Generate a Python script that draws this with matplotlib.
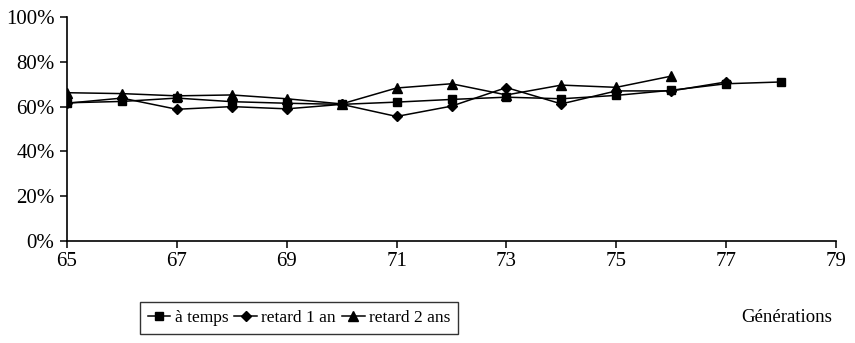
import matplotlib
matplotlib.use("Agg")
import matplotlib.pyplot as plt
from matplotlib.ticker import PercentFormatter

plt.rcParams['font.family'] = ['Liberation Serif', 'DejaVu Serif']

years_a_temps = list(range(65, 79))
a_temps = [61.7, 62.3, 63.8, 62.2, 61.5, 61.0, 62.0, 63.2, 64.2, 63.5, 65.0, 67.3, 70.2, 71.0]
years_retard_1 = list(range(65, 78))
retard_1 = [61.5, 63.8, 58.8, 60.0, 59.0, 61.0, 55.6, 60.2, 68.5, 61.2, 67.0, 67.0, 71.0]
years_retard_2 = list(range(65, 77))
retard_2 = [66.2, 65.8, 64.8, 65.2, 63.5, 61.2, 68.3, 70.2, 65.2, 69.6, 68.6, 73.6]

labels = ["à temps", "retard 1 an", "retard 2 ans"]
x_ticks = [65, 67, 69, 71, 73, 75, 77, 79]
y_ticks = [0, 20, 40, 60, 80, 100]

fig = plt.figure(figsize=(8.55, 3.43), dpi=100)
ax = fig.add_axes([67/855, 1-241/343, (836-67)/855, (241-17)/343])

lw = 1.1
h1, = ax.plot(years_a_temps, a_temps, color='black', lw=lw, marker='s', ms=6, label=labels[0])
h2, = ax.plot(years_retard_1, retard_1, color='black', lw=lw, marker='D', ms=5, label=labels[1])
h3, = ax.plot(years_retard_2, retard_2, color='black', lw=lw, marker='^', ms=7, label=labels[2])

ax.set_xlim(65, 79)
ax.set_ylim(0, 100)
ax.set_xticks(x_ticks)
ax.set_yticks(y_ticks)
ax.yaxis.set_major_formatter(PercentFormatter(decimals=0))
for s in ['top', 'right']:
    ax.spines[s].set_visible(False)
for s in ['left', 'bottom']:
    ax.spines[s].set_linewidth(1.2)
ax.tick_params(axis='both', direction='out', length=5, width=1.1, labelsize=15)
ax.tick_params(axis='x', pad=3)
ax.tick_params(axis='y', pad=4)

leg = fig.legend(handles=[h1, h2, h3], loc='center', bbox_to_anchor=(299/855, 1-318/343),
                 ncol=3, frameon=True, fancybox=False, edgecolor='black', fontsize=12.5,
                 handlelength=1.3, handletextpad=0.25, columnspacing=0.35, borderpad=0.45,
                 borderaxespad=0, numpoints=1)
leg.get_frame().set_linewidth(1.0)

fig.text(787/855, 1-318/343, "Générations", ha='center', va='center', fontsize=13.5)

fig.savefig("out.png", dpi=100)
